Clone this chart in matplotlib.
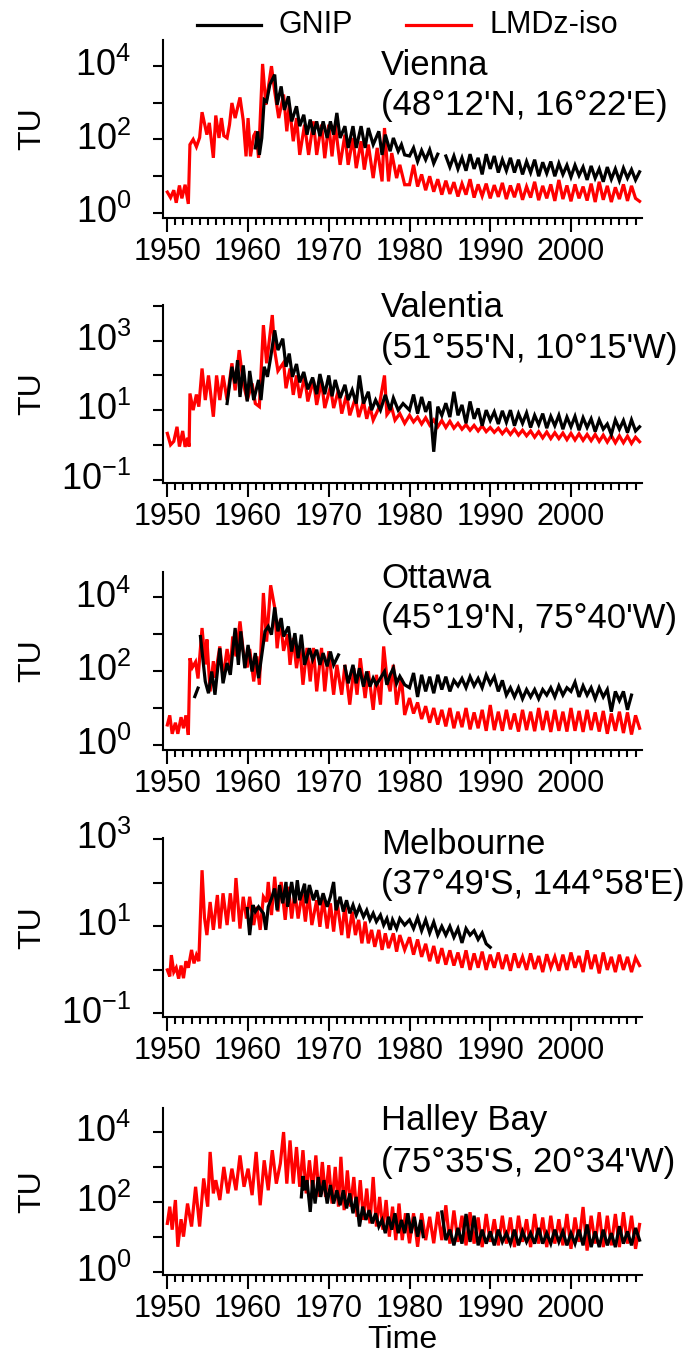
import numpy as np
import matplotlib
matplotlib.use("Agg")
import matplotlib.pyplot as plt
from matplotlib.lines import Line2D
from matplotlib.ticker import FixedLocator, FuncFormatter, NullLocator

plt.rcParams['font.family'] = ['Liberation Sans', 'DejaVu Sans']
plt.rcParams['mathtext.fontset'] = 'custom'
plt.rcParams['mathtext.rm'] = 'Liberation Sans'
plt.rcParams['mathtext.it'] = 'Liberation Sans:italic'
plt.rcParams['mathtext.bf'] = 'Liberation Sans:bold'

# ---------------------------------------------------------------------------
# Tritium in precipitation (log10 TU).  Early parts are (year, log10 TU)
# pairs; later parts are half-yearly values starting at the given year.
# nan marks gaps in the GNIP record.
# ---------------------------------------------------------------------------
nan = float('nan')

# ---- Vienna ----
vienna_lmdz_early = [
    (1950.0, 0.57), (1950.4, 0.42), (1950.8, 0.62), (1951.1, 0.28), (1951.5, 0.75),
    (1951.8, 0.40), (1952.2, 0.77), (1952.6, 0.25), (1952.8, 1.86), (1953.2, 2.00),
    (1953.6, 1.80), (1954.0, 2.05), (1954.3, 2.74), (1954.9, 2.13), (1955.2, 2.45),
    (1955.7, 1.50), (1956.0, 2.65), (1956.4, 2.04), (1956.7, 2.58), (1957.0, 2.10),
    (1957.4, 2.04), (1957.7, 2.40), (1958.0, 2.99), (1958.4, 2.58), (1959.0, 3.14),
    (1959.4, 2.52), (1959.75, 1.54), (1960.0, 2.58), (1960.3, 1.54), (1960.7, 2.10),
    (1961.0, 2.22), (1961.3, 1.50), (1961.8, 4.05), (1962.2, 2.94), (1962.9, 3.99),
    (1963.3, 3.30), (1963.8, 2.58), (1964.4, 3.22), (1964.8, 2.22), (1965.1, 2.94),
    (1965.6, 1.95), (1966.0, 2.58), (1966.4, 1.58), (1967.0, 2.40), (1967.5, 1.58),
    (1968.1, 2.49), (1968.5, 1.58), (1969.1, 2.40), (1969.5, 1.49), (1970.0, 2.40),
    (1970.4, 1.54), (1970.8, 2.40), (1971.4, 1.31), (1972.0, 2.13), (1972.4, 1.31),
    (1973.0, 2.04), (1973.4, 1.22), (1974.0, 1.95), (1974.4, 1.18), (1974.9, 1.86),
    (1975.5, 0.95), (1976.0, 1.77), (1976.6, 0.86), (1976.9, 2.31), (1977.4, 0.86),
    (1977.8, 1.63), (1978.4, 0.95), (1978.8, 1.31), (1979.4, 0.77)]
vienna_lmdz_late_start = 1980.0
vienna_lmdz_late = [
    0.77, 1.31, 0.72, 1.05, 0.62, 1.00, 0.58, 0.92, 0.50, 0.88,
    0.52, 0.84, 0.45, 0.80, 0.50, 0.92, 0.42, 0.78, 0.46, 0.80,
    0.40, 0.76, 0.44, 0.82, 0.38, 0.75, 0.43, 0.80, 0.36, 0.72,
    0.42, 0.85, 0.35, 0.74, 0.40, 0.78, 0.33, 0.90, 0.38, 0.75,
    0.32, 0.78, 0.40, 0.72, 0.34, 0.80, 0.30, 0.85, 0.36, 0.74,
    0.30, 0.70, 0.38, 0.78, 0.33, 0.74, 0.40, 0.32]
vienna_gnip_early = [
    (1960.9, 1.77), (1961.2, 2.22), (1961.4, 1.58), (1961.7, 2.04), (1962.0, 3.08),
    (1962.3, 3.03), (1962.7, 3.49), (1963.3, 3.76), (1963.6, 2.94), (1964.1, 3.44),
    (1964.5, 2.80), (1965.0, 3.17), (1965.4, 2.49), (1966.0, 2.90), (1966.4, 2.36),
    (1966.9, 2.67), (1967.3, 2.13), (1967.7, 2.54), (1968.1, 2.13), (1968.5, 2.49),
    (1968.9, 2.09), (1969.3, 2.49), (1969.8, 2.04), (1970.2, 2.49), (1970.6, 2.13),
    (1971.0, 2.72), (1971.4, 2.04), (1972.0, 2.36), (1972.4, 1.77), (1973.0, 2.36),
    (1973.4, 1.77), (1974.0, 2.36), (1974.5, 1.77), (1974.9, 2.31), (1975.5, 1.86),
    (1976.2, 2.22), (1976.6, 1.58), (1977.0, 2.13), (1977.6, 1.68), (1978.0, 2.04),
    (1978.6, 1.68), (1979.0, 1.86), (1979.4, 1.58)]
vienna_gnip_late_start = 1980.0
vienna_gnip_late = [
    1.55, 1.77, 1.40, 1.70, 1.45, 1.72, 1.35, 1.60, nan, 1.55,
    1.25, 1.55, 1.20, 1.50, 1.15, 1.60, 1.20, 1.50, 1.05, 1.60,
    1.20, 1.55, 1.10, 1.45, 1.15, 1.50, 1.10, 1.45, 1.05, 1.40,
    1.10, 1.45, 1.00, 1.38, 1.08, 1.40, 1.00, 1.35, 1.05, 1.30,
    0.98, 1.30, 1.02, 1.25, 0.90, 1.28, 0.95, 1.20, 0.85, 1.25,
    0.92, 1.20, 0.88, 1.22, 0.95, 1.18, 0.90, 1.12]

# ---- Valentia ----
valentia_lmdz_early = [
    (1950.0, 0.33), (1950.4, 0.00), (1950.8, 0.10), (1951.2, 0.52), (1951.5, -0.05),
    (1951.9, 0.40), (1952.2, -0.06), (1952.5, 0.20), (1952.7, -0.05), (1952.8, 1.48),
    (1953.2, 1.00), (1953.6, 1.45), (1953.9, 1.10), (1954.3, 2.20), (1954.7, 1.29),
    (1955.1, 2.00), (1955.7, 0.81), (1956.1, 2.00), (1956.5, 1.29), (1956.9, 2.00),
    (1957.4, 1.29), (1958.0, 2.35), (1958.4, 1.57), (1958.9, 2.73), (1959.4, 1.77),
    (1959.9, 1.29), (1960.5, 1.77), (1960.9, 1.19), (1961.4, 1.10), (1961.9, 3.45),
    (1962.3, 2.35), (1963.0, 3.74), (1963.3, 2.71), (1963.7, 2.13), (1964.4, 2.37),
    (1964.7, 1.63), (1965.2, 2.20), (1965.6, 1.44), (1966.0, 2.00), (1966.4, 1.35),
    (1967.0, 1.96), (1967.4, 1.25), (1968.1, 1.87), (1968.5, 1.15), (1969.1, 1.83),
    (1969.5, 1.06), (1970.2, 1.67), (1970.6, 1.06), (1971.2, 1.58), (1971.6, 0.90),
    (1972.2, 1.44), (1972.6, 0.85), (1973.3, 1.35), (1973.7, 0.80), (1974.3, 1.25),
    (1974.7, 0.75), (1975.1, 1.10), (1975.5, 0.71), (1976.2, 1.06), (1976.9, 2.00),
    (1977.2, 0.87), (1977.8, 1.06), (1978.2, 0.71), (1978.8, 0.90), (1979.4, 0.62)]
valentia_lmdz_late_start = 1980.0
valentia_lmdz_late = [
    0.85, 0.66, 0.80, 0.60, 0.78, 0.57, 0.72, 0.52, 0.70, 0.50,
    0.68, 0.48, 0.62, 0.45, 0.58, 0.42, 0.56, 0.40, 0.55, 0.38,
    0.50, 0.36, 0.48, 0.32, 0.46, 0.30, 0.45, 0.28, 0.42, 0.26,
    0.40, 0.22, 0.38, 0.20, 0.37, 0.18, 0.35, 0.18, 0.34, 0.15,
    0.33, 0.14, 0.32, 0.13, 0.30, 0.12, 0.30, 0.10, 0.28, 0.08,
    0.27, 0.06, 0.26, 0.06, 0.25, 0.04, 0.22, 0.09]
valentia_gnip_early = [
    (1957.4, 1.19), (1958.0, 2.25), (1958.4, 1.77), (1958.7, 2.44), (1959.0, 1.38),
    (1959.4, 2.29), (1959.9, 1.25), (1960.2, 2.13), (1960.7, 1.29), (1961.3, 1.87),
    (1961.6, 1.29), (1962.0, 2.25), (1962.4, 1.96), (1962.8, 2.52), (1963.3, 3.30),
    (1963.7, 2.73), (1964.3, 3.06), (1964.7, 2.25), (1965.1, 2.63), (1965.5, 1.96),
    (1966.0, 2.33), (1966.4, 1.80), (1966.9, 2.10), (1967.4, 1.60), (1968.0, 1.94),
    (1968.5, 1.46), (1968.9, 2.04), (1969.5, 1.46), (1970.0, 2.00), (1970.4, 1.40),
    (1970.8, 1.87), (1971.4, 1.35), (1972.0, 1.73), (1972.4, 1.29), (1972.9, 1.58),
    (1973.4, 1.19), (1973.8, 2.00), (1974.3, 1.19), (1974.9, 1.53), (1975.3, 1.00),
    (1975.8, 1.29), (1976.4, 1.00), (1977.0, 1.44), (1977.6, 1.00), (1978.0, 1.35),
    (1978.6, 1.00), (1979.2, 1.19)]
valentia_gnip_late_start = 1980.0
valentia_gnip_late = [
    1.00, 1.45, 0.90, 1.38, 0.95, 1.25, -0.20, 1.10, 0.85, 1.20,
    0.80, 1.53, 0.85, 1.15, 0.62, 1.25, 0.75, 1.05, 0.55, 1.00,
    0.70, 0.95, 0.60, 0.98, 0.65, 1.00, 0.55, 0.90, 0.62, 0.92,
    0.50, 0.85, 0.58, 0.90, 0.48, 0.82, 0.55, 0.85, 0.45, 0.80,
    0.52, 0.82, 0.42, 0.78, 0.50, 0.75, 0.38, 0.72, 0.45, 0.60,
    0.30, 0.72, 0.45, 0.70, 0.35, 0.72, 0.40, 0.52]

# ---- Ottawa ----
ottawa_lmdz_early = [
    (1950.0, 0.54), (1950.3, 0.80), (1950.6, 0.30), (1951.0, 0.60), (1951.3, 0.30),
    (1951.7, 0.75), (1952.0, 0.45), (1952.3, 0.80), (1952.6, 0.27), (1952.8, 2.35),
    (1953.1, 2.10), (1953.5, 2.25), (1953.8, 1.80), (1954.3, 3.17), (1954.7, 2.18),
    (1954.9, 2.86), (1955.3, 1.45), (1955.7, 2.27), (1955.9, 1.82), (1956.5, 2.67),
    (1956.9, 1.82), (1957.4, 2.60), (1957.8, 2.05), (1958.1, 2.94), (1958.5, 2.40),
    (1959.0, 3.35), (1959.4, 2.55), (1959.9, 2.10), (1960.2, 2.60), (1960.7, 1.72),
    (1961.1, 2.40), (1961.4, 1.63), (1961.9, 4.12), (1962.3, 2.80), (1962.8, 4.33),
    (1963.3, 3.72), (1963.6, 2.62), (1964.0, 3.40), (1964.4, 2.55), (1964.9, 3.00),
    (1965.2, 2.17), (1965.6, 2.90), (1966.0, 2.08), (1966.4, 2.67), (1966.8, 1.63),
    (1967.3, 2.63), (1967.7, 1.72), (1968.1, 2.63), (1968.5, 1.45), (1969.1, 2.63),
    (1969.5, 1.45), (1970.0, 2.54), (1970.6, 1.36), (1971.0, 2.17), (1971.6, 1.36),
    (1972.0, 2.17), (1972.6, 1.09), (1973.1, 2.08), (1973.5, 1.36), (1973.9, 2.35),
    (1974.5, 1.27), (1974.9, 2.00), (1975.5, 0.95), (1975.9, 1.90), (1976.4, 1.09),
    (1976.8, 2.67), (1977.2, 1.82), (1977.6, 1.45), (1978.0, 2.17), (1978.4, 1.09),
    (1979.0, 1.81), (1979.4, 0.81)]
ottawa_lmdz_late_start = 1980.0
ottawa_lmdz_late = [
    1.27, 0.85, 1.15, 0.70, 1.05, 0.60, 1.00, 0.55, 0.95, 0.50,
    1.00, 0.45, 0.90, 0.48, 1.00, 0.42, 0.88, 0.45, 0.95, 0.38,
    1.08, 0.40, 0.90, 0.38, 0.95, 0.42, 0.85, 0.36, 0.95, 0.40,
    0.90, 0.37, 1.00, 0.40, 0.92, 0.35, 0.95, 0.38, 0.90, 0.36,
    1.00, 0.38, 0.92, 0.35, 0.95, 0.40, 0.88, 0.36, 0.92, 0.30,
    0.85, 0.38, 0.90, 0.32, 0.88, 0.28, 0.80, 0.45]
ottawa_gnip_early = [
    (1953.4, 1.31), (1953.8, 1.54), (1954.0, nan), (1954.1, 2.94), (1954.7, 1.72),
    (1955.1, 1.40), (1955.5, 1.99), (1955.9, 1.36), (1956.5, 2.62), (1956.9, 1.67),
    (1957.4, 2.22), (1957.8, 1.90), (1958.4, 3.17), (1958.8, 2.17), (1959.1, 3.08),
    (1959.6, 2.08), (1960.0, 2.71), (1960.5, 1.99), (1960.9, 2.49), (1961.3, 1.81),
    (1961.7, 2.44), (1962.1, 3.08), (1962.5, 3.21), (1962.9, 2.99), (1963.3, 3.73),
    (1963.7, 3.08), (1964.1, 3.44), (1964.4, 2.94), (1965.0, 3.21), (1965.4, 2.53),
    (1965.8, 3.03), (1966.2, 2.35), (1966.6, 2.99), (1967.0, 2.17), (1967.6, 2.62),
    (1968.0, 2.31), (1968.5, 2.58), (1968.9, 2.17), (1969.3, 2.49), (1969.8, 2.13),
    (1970.2, 2.53), (1970.6, 2.17), (1971.2, 2.44), (1971.5, nan), (1972.0, 2.13),
    (1972.4, 1.67), (1973.0, 2.17), (1973.4, 1.67), (1973.8, 2.08), (1974.3, 1.58),
    (1974.7, 1.99), (1975.1, 1.58), (1975.5, 1.81), (1975.9, 1.63), (1976.4, 1.81),
    (1976.9, 1.99), (1977.2, 1.63), (1977.6, 1.90), (1978.0, 2.08), (1978.4, 1.67),
    (1978.8, 1.86), (1979.4, 1.63)]
ottawa_gnip_late_start = 1980.0
ottawa_gnip_late = [
    1.55, 1.95, 1.30, 1.90, 1.45, 1.85, 1.40, 1.90, 1.50, 1.85,
    1.45, 1.75, 1.60, 1.80, 1.55, 1.85, 1.60, 1.80, 1.55, 1.90,
    1.65, 1.85, 1.45, 1.75, 1.35, 1.55, 1.30, 1.55, 1.25, 1.50,
    1.30, 1.50, 1.25, 1.50, 1.35, 1.55, 1.30, 1.60, 1.35, 1.55,
    1.45, 1.70, 1.30, 1.60, 1.35, 1.55, 1.25, 1.55, 1.30, 1.50,
    0.90, 1.45, 1.20, 1.45, 0.95, 1.35]

# ---- Melbourne ----
melbourne_lmdz_early = [
    (1950.0, 0.00), (1950.3, -0.15), (1950.5, 0.34), (1950.8, -0.05), (1951.1, 0.05),
    (1951.4, -0.20), (1951.7, 0.10), (1952.0, -0.19), (1952.3, 0.20), (1952.6, 0.05),
    (1953.0, 0.46), (1953.3, 0.15), (1953.6, 0.34), (1953.9, 0.20), (1954.3, 2.29),
    (1954.6, 1.20), (1954.9, 0.80), (1955.3, 1.56), (1955.7, 0.92), (1956.2, 1.72),
    (1956.5, 0.95), (1956.9, 1.76), (1957.4, 1.03), (1957.8, 1.76), (1958.2, 1.11),
    (1958.5, 2.11), (1959.0, 0.95), (1959.4, 1.68), (1959.8, 1.18), (1960.2, 1.68),
    (1960.7, 1.03), (1961.1, 1.45), (1961.5, 0.92), (1961.9, 1.68), (1962.3, 1.56),
    (1962.5, 2.02), (1962.9, 1.26), (1963.3, 2.14), (1963.7, 1.34), (1964.1, 2.02),
    (1964.6, 1.15), (1965.0, 1.91), (1965.4, 1.18), (1965.8, 1.79), (1966.2, 1.18),
    (1966.7, 1.76), (1967.1, 1.11), (1967.5, 1.76), (1967.9, 1.03), (1968.5, 1.60),
    (1968.9, 0.99), (1969.3, 1.64), (1969.8, 0.95), (1970.2, 1.53), (1970.6, 0.88),
    (1971.0, 1.60), (1971.6, 0.80), (1972.0, 1.49), (1972.4, 0.73), (1972.9, 1.34),
    (1973.3, 0.80), (1973.7, 1.15), (1974.1, 0.61), (1974.5, 1.11), (1974.9, 0.61),
    (1975.3, 0.92), (1975.7, 0.53), (1976.2, 0.92), (1976.6, 0.46), (1977.0, 0.84),
    (1977.4, 0.50), (1978.0, 0.84), (1978.4, 0.42), (1978.8, 0.80), (1979.4, 0.46)]
melbourne_lmdz_late_start = 1980.0
melbourne_lmdz_late = [
    0.75, 0.35, 0.70, 0.30, 0.60, 0.20, 0.55, 0.15, 0.50, 0.12,
    0.45, 0.10, 0.40, 0.05, 0.45, 0.00, 0.38, 0.05, 0.42, 0.00,
    0.35, 0.05, 0.40, 0.02, 0.35, -0.02, 0.38, 0.05, 0.30, 0.00,
    0.38, 0.02, 0.32, -0.05, 0.36, 0.05, 0.30, -0.02, 0.35, 0.00,
    0.40, 0.05, 0.32, -0.05, 0.45, 0.02, 0.35, -0.08, 0.40, 0.00,
    0.30, -0.05, 0.35, 0.00, 0.30, -0.05, 0.28, 0.10]
melbourne_gnip_early = [
    (1959.9, 1.41), (1960.2, 0.80), (1960.6, 1.49), (1960.9, 1.34), (1961.3, 1.45),
    (1961.9, 1.30), (1962.2, 0.92), (1962.5, 1.45), (1962.9, 1.64), (1963.3, 1.87),
    (1963.6, 1.37), (1963.9, 1.95), (1964.3, 1.53), (1964.7, 2.02), (1964.9, 1.45),
    (1965.4, 2.02), (1965.8, 1.53), (1966.1, 2.06), (1966.4, 1.60), (1967.0, 1.98),
    (1967.2, 1.53), (1967.6, 1.95), (1968.1, 1.60), (1968.5, 1.83), (1968.9, 1.49),
    (1969.3, 1.76), (1969.8, 1.45), (1970.2, 1.68), (1970.6, 2.02), (1970.9, 1.37),
    (1971.4, 1.68), (1971.8, 1.34), (1972.2, 1.60), (1972.6, 1.30), (1973.0, 1.49),
    (1973.4, 1.26), (1973.8, 1.45), (1974.3, 1.22), (1974.7, 1.37), (1975.1, 1.15),
    (1975.5, 1.30), (1975.9, 1.11), (1976.4, 1.26), (1976.8, 1.03), (1977.2, 1.18),
    (1977.6, 0.92), (1977.9, 1.15), (1978.4, 0.95), (1978.8, 1.18), (1979.4, 1.03)]
melbourne_gnip_late_start = 1980.0
melbourne_gnip_late = [
    1.15, 0.95, 1.20, 0.90, 1.15, 0.85, 1.10, 0.80, 1.00, 0.80,
    1.00, 0.75, 0.95, 0.62, 0.95, 0.80, 0.90, 0.70, 0.85, 0.60,
    0.52]

# ---- Halley Bay ----
halley_lmdz_early = [
    (1950.0, 1.38), (1950.3, 1.86), (1950.6, 1.20), (1951.0, 2.05), (1951.3, 0.71),
    (1951.7, 1.50), (1952.0, 1.00), (1952.5, 1.95), (1953.0, 1.29), (1953.5, 2.43),
    (1954.0, 1.29), (1954.5, 2.67), (1955.0, 1.86), (1955.3, 3.43), (1955.7, 2.24),
    (1956.0, 2.62), (1956.5, 2.05), (1957.0, 3.00), (1957.5, 2.24), (1958.0, 2.95),
    (1958.5, 2.33), (1959.0, 3.33), (1959.5, 2.43), (1960.0, 2.95), (1960.5, 2.19),
    (1961.0, 3.43), (1961.5, 1.90), (1962.0, 3.19), (1962.5, 2.33), (1963.0, 3.48),
    (1963.5, 2.52), (1964.0, 3.10), (1964.4, 4.00), (1964.8, 2.52), (1965.2, 3.76),
    (1965.6, 2.52), (1966.0, 3.57), (1966.4, 2.43), (1966.8, 3.48), (1967.2, 2.24),
    (1967.6, 3.19), (1968.0, 2.33), (1968.4, 3.33), (1968.8, 2.14), (1969.2, 3.14),
    (1969.6, 2.14), (1970.0, 3.05), (1970.4, 1.95), (1970.8, 3.00), (1971.2, 1.86),
    (1971.5, 3.29), (1971.9, 1.76), (1972.3, 2.90), (1972.7, 1.86), (1973.1, 2.71),
    (1973.5, 1.57), (1973.9, 2.62), (1974.3, 1.48), (1974.7, 2.38), (1975.1, 1.38),
    (1975.5, 2.71), (1975.9, 1.29), (1976.3, 2.14), (1976.7, 1.20), (1977.1, 2.05),
    (1977.5, 1.00), (1977.9, 1.86), (1978.3, 0.90), (1978.7, 1.95), (1979.1, 0.90),
    (1979.5, 1.67)]
halley_lmdz_late_start = 1980.0
halley_lmdz_late = [
    0.81, 1.67, 0.71, 1.67, 0.90, 1.57, 0.81, 1.71, 0.90, 1.90,
    0.80, 1.75, 0.85, 1.60, 0.75, 1.70, 0.80, 1.55, 0.70, 1.65,
    0.85, 1.50, 0.75, 1.60, 0.80, 1.55, 0.70, 1.60, 0.85, 1.50,
    0.70, 1.65, 0.80, 1.55, 0.70, 1.60, 0.80, 1.50, 0.75, 1.65,
    0.65, 1.55, 0.85, 1.85, 0.60, 1.60, 0.80, 1.70, 0.70, 1.60,
    0.75, 1.65, 0.70, 1.70, 0.80, 1.60, 0.65, 1.35]
halley_gnip_early = [
    (1966.6, 2.14), (1966.8, 2.74), (1967.0, 2.33), (1967.3, 2.62), (1967.7, 1.71),
    (1968.0, 2.62), (1968.3, 1.95), (1968.7, 2.71), (1969.0, 2.14), (1969.4, 2.62),
    (1969.8, 1.95), (1970.2, 2.48), (1970.6, 1.95), (1971.0, 2.33), (1971.4, 1.90),
    (1971.8, 2.33), (1972.2, 1.81), (1972.6, 2.24), (1973.0, 1.67), (1973.4, 2.14),
    (1973.8, 1.29), (1974.2, 1.86), (1974.6, 1.48), (1975.0, 1.76), (1975.4, 1.38),
    (1975.8, 1.67), (1976.2, 1.29), (1976.6, 1.48), (1977.0, 1.10), (1977.4, 1.57),
    (1977.8, 1.20), (1978.2, 1.67), (1978.6, 1.10), (1979.0, 1.48), (1979.4, 1.10),
    (1979.8, 1.67), (1980.2, 1.10), (1980.6, 1.57), (1981.0, 1.00), (1981.4, 1.48),
    (1981.7, 1.00), (1982.0, nan)]
halley_gnip_late_start = 1984.0
halley_gnip_late = [
    1.71, 0.90, 1.20, 0.75, 1.25, 0.80, 1.65, 0.85, 1.60, 0.75,
    1.20, 0.80, 1.15, 0.75, 1.20, 0.85, 1.10, 0.80, 1.20, 0.75,
    1.15, 0.85, 1.10, 0.80, 1.25, 0.80, 1.10, 0.80, 1.20, 0.85,
    1.15, 0.75, 1.10, 0.80, 1.20, 0.75, 1.35, 0.70, 1.15, 0.70,
    1.20, 0.75, 1.10, 0.70, 1.30, 0.80, 1.15, 0.75, 1.25, 0.90]

# Station names, coordinates and log10 y-limits of each panel
station_names = ["Vienna", "Valentia", "Ottawa", "Melbourne", "Halley Bay"]
station_coords = ["(48°12'N, 16°22'E)", "(51°55'N, 10°15'W)", "(45°19'N, 75°40'W)",
                  "(37°49'S, 144°58'E)", "(75°35'S, 20°34'W)"]
panel_log_limits = [(-0.12, 4.70), (-1.10, 4.03), (-0.14, 4.69), (-1.07, 3.03), (-0.10, 4.69)]
labelled_decade = [0, -1, 0, -1, 0]

year_ticks = [1950, 1960, 1970, 1980, 1990, 2000]
year_minor = list(range(1950, 2009))
series_names = ["GNIP", "LMDz-iso"]
series_colors = ["black", "#ff0000"]


def build(early, late_start, late):
    t = [p[0] for p in early] + list(late_start + 0.5 * np.arange(len(late)))
    v = [p[1] for p in early] + list(late)
    return np.array(t, dtype=float), 10.0 ** np.array(v, dtype=float)


gnip = [
    build(vienna_gnip_early, vienna_gnip_late_start, vienna_gnip_late),
    build(valentia_gnip_early, valentia_gnip_late_start, valentia_gnip_late),
    build(ottawa_gnip_early, ottawa_gnip_late_start, ottawa_gnip_late),
    build(melbourne_gnip_early, melbourne_gnip_late_start, melbourne_gnip_late),
    build(halley_gnip_early, halley_gnip_late_start, halley_gnip_late)]
lmdz = [
    build(vienna_lmdz_early, vienna_lmdz_late_start, vienna_lmdz_late),
    build(valentia_lmdz_early, valentia_lmdz_late_start, valentia_lmdz_late),
    build(ottawa_lmdz_early, ottawa_lmdz_late_start, ottawa_lmdz_late),
    build(melbourne_lmdz_early, melbourne_lmdz_late_start, melbourne_lmdz_late),
    build(halley_lmdz_early, halley_lmdz_late_start, halley_lmdz_late)]

# ---------------------------------------------------------------------------
W, H, DPI = 690, 1359, 100
fig = plt.figure(figsize=(W / DPI, H / DPI), dpi=DPI)

AX_LEFT, AX_RIGHT = 163.3, 642.0
panel_px = [(40, 217.5), (305, 483), (572, 750), (838, 1016.5), (1108, 1275)]
title_base1 = [75, 317, 588, 854, 1130]
title_base2 = [115, 358, 628, 894, 1172]

LW_DATA = 2.3
LW_AXIS = 1.5

def px_x(x):
    return x / W

def px_y(y):
    return 1 - y / H


for i in range(5):
    top, bot = panel_px[i]
    ax = fig.add_axes([px_x(AX_LEFT), px_y(bot), (AX_RIGHT - AX_LEFT) / W, (bot - top) / H])
    ax.set_yscale('log')
    lo, hi = panel_log_limits[i]
    ax.set_ylim(10 ** lo, 10 ** hi)
    ax.set_xlim(1949.5, 2008.8)

    t, v = lmdz[i]
    ax.plot(t, v, color=series_colors[1], lw=LW_DATA, solid_joinstyle='miter', zorder=2)
    t, v = gnip[i]
    ax.plot(t, v, color=series_colors[0], lw=LW_DATA, solid_joinstyle='miter', zorder=3)

    for s in ['top', 'right']:
        ax.spines[s].set_visible(False)
    for s in ['left', 'bottom']:
        ax.spines[s].set_linewidth(LW_AXIS)

    decades = list(range(int(np.ceil(lo)), int(np.floor(hi)) + 1))
    ax.yaxis.set_major_locator(FixedLocator([10.0 ** d for d in decades]))
    ax.yaxis.set_minor_locator(NullLocator())
    base = labelled_decade[i]

    def fmt(val, pos, base=base):
        d = int(round(np.log10(val)))
        return r'$10^{%d}$' % d if (d - base) % 2 == 0 else ''
    ax.yaxis.set_major_formatter(FuncFormatter(fmt))
    ax.tick_params(axis='y', which='major', length=7, width=LW_AXIS, labelsize=26, pad=16)
    for lab in ax.get_yticklabels():
        lab.set_verticalalignment('center')

    ax.xaxis.set_major_locator(FixedLocator(year_ticks))
    ax.xaxis.set_minor_locator(FixedLocator([y for y in year_minor if y not in year_ticks]))
    ax.tick_params(axis='x', which='major', length=10, width=LW_AXIS, labelsize=22, pad=4)
    ax.tick_params(axis='x', which='minor', length=5, width=LW_AXIS)

    fig.text(px_x(381), px_y(title_base1[i]), station_names[i], fontsize=25,
             ha='left', va='baseline')
    fig.text(px_x(381), px_y(title_base2[i]), station_coords[i], fontsize=25,
             ha='left', va='baseline')
    fig.text(px_x(32), px_y((top + bot) / 2), "TU", fontsize=23, rotation=90,
             ha='center', va='center')

fig.text(px_x((AX_LEFT + AX_RIGHT) / 2), px_y(1340), "Time", fontsize=23,
         ha='center', va='center')

# Legend keys across the top
for name, col, x0, x1, xt in [(series_names[0], series_colors[0], 197, 261, 279),
                             (series_names[1], series_colors[1], 406, 471, 489)]:
    fig.add_artist(Line2D([px_x(x0), px_x(x1)], [px_y(25), px_y(25)], color=col,
                          lw=LW_DATA, transform=fig.transFigure))
    fig.text(px_x(xt), px_y(25), name, fontsize=22, ha='left', va='center')

fig.savefig("out.png", dpi=DPI)
